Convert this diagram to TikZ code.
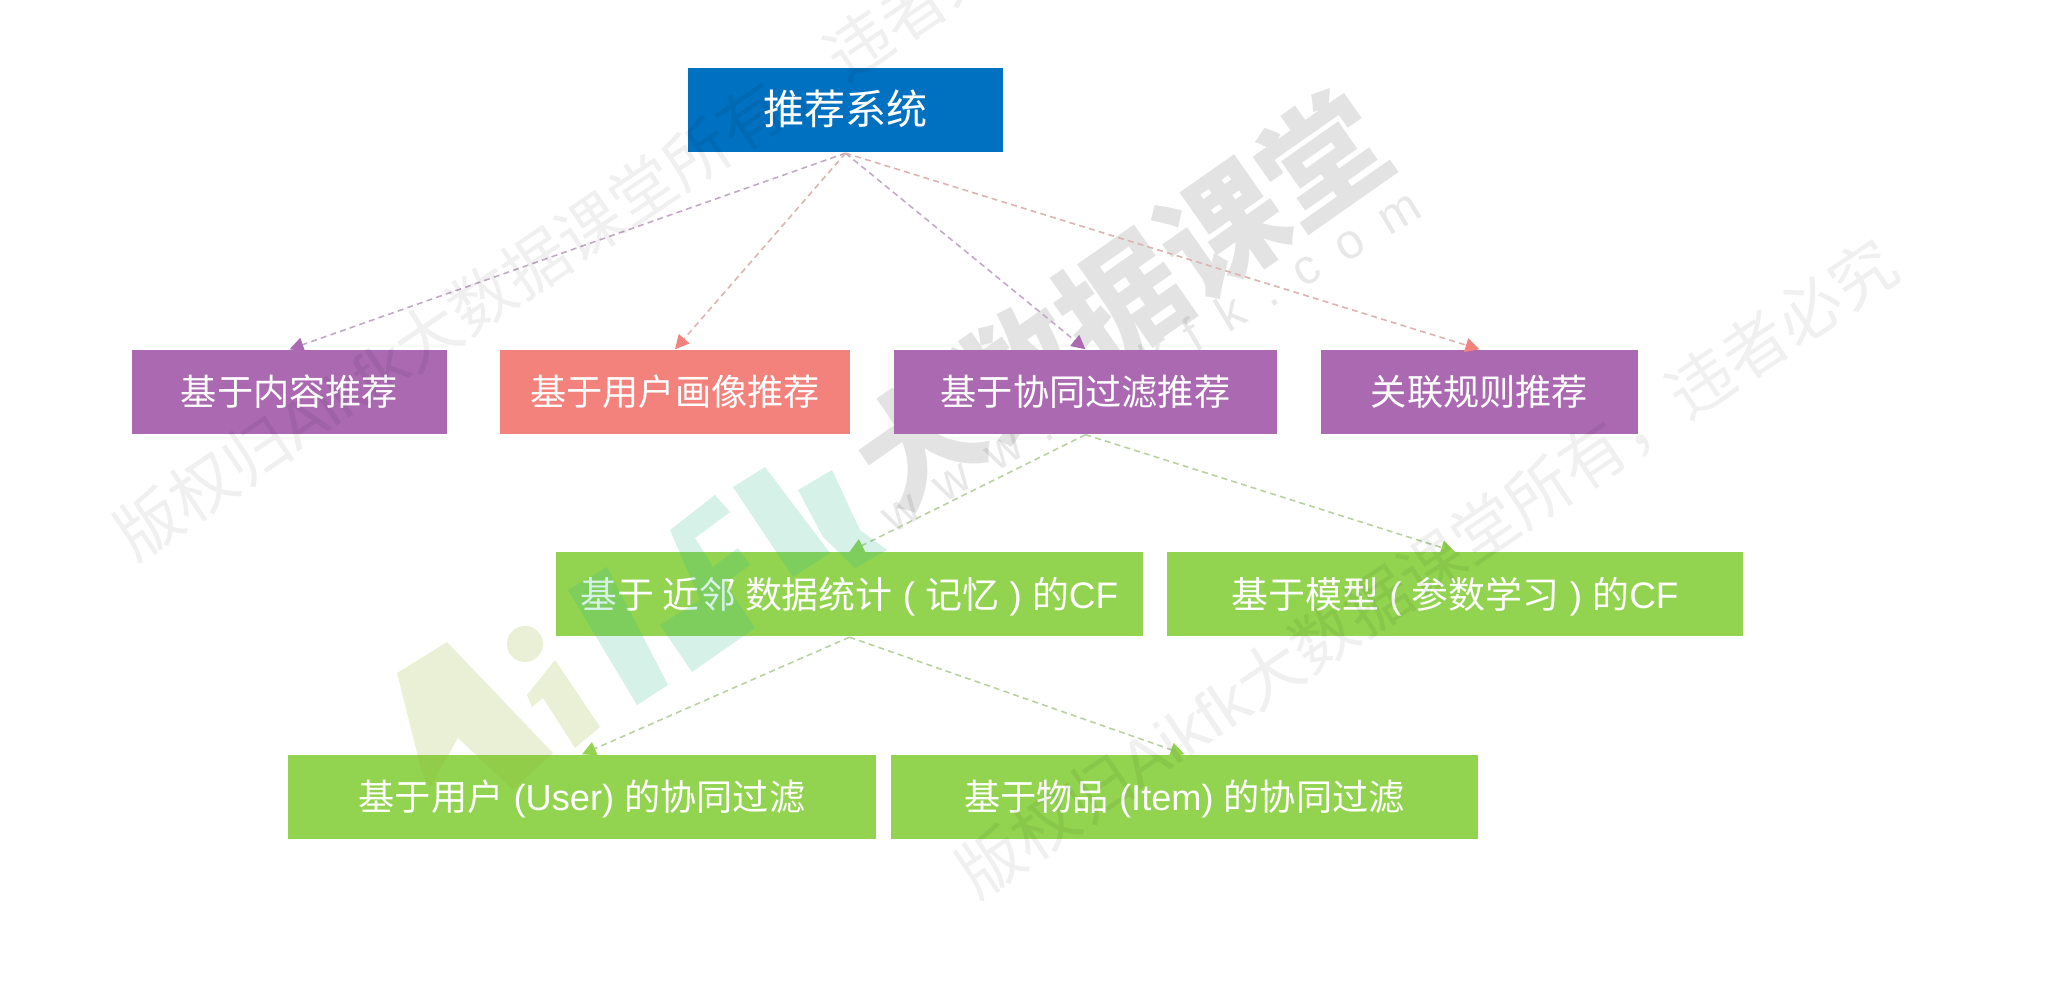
\documentclass[tikz,border=0pt]{standalone}
\usepackage{fontspec}
\setmainfont{Noto Sans CJK SC}
\newfontfamily\latn{Liberation Sans}
\newfontfamily\wide[LetterSpace=50]{Liberation Sans}
\usetikzlibrary{arrows.meta}
\definecolor{rootblue}{HTML}{0070C0}
\definecolor{plum}{HTML}{AB69B1}
\definecolor{salmon}{HTML}{F3827C}
\definecolor{leaf}{HTML}{92D450}
\begin{document}
\begin{tikzpicture}[
    box/.style={text=white, inner sep=0pt, minimum height=8.4mm, text height=3.2mm, text depth=0.4mm, font=\fontsize{10.3}{12}\selectfont},
    link/.style={draw=#1!60!gray!60, line width=0.45pt, dash pattern=on 1.7pt off 1.2pt, -{Triangle[length=1.4mm,width=1.4mm,color=#1]}},
    wmark/.style={text=black, text opacity=0.06, rotate=34, font=\fontsize{18.5}{20}\selectfont},
    bigmark/.style={text=black, text opacity=0.11, rotate=35, font=\bfseries\fontsize{35}{40}\selectfont},
    urlmark/.style={text=black, text opacity=0.09, rotate=31, font=\wide\fontsize{14}{18}\selectfont},
    logoA/.style={fill={rgb,255:red,150;green,180;blue,50}, fill opacity=0.2},
    logoK/.style={fill={rgb,255:red,45;green,185;blue,140}, fill opacity=0.2}
]
\useasboundingbox (0,0) rectangle (20.68,9.88);

\node[bigmark] (markbig) at (11.21,6.88) {大数据课堂};
\node[urlmark] (markurl) at (11.5,6.28) {www.aikfk.com};

\node[box, fill=rootblue, minimum width=31.5mm, font=\fontsize{11.7}{14}\selectfont] (root) at (8.455,8.775) {推荐系统};

\node[box, fill=plum, minimum width=31.5mm] (content) at (2.895,5.96) {基于内容推荐};
\node[box, fill=salmon, minimum width=35mm] (profile) at (6.75,5.96) {基于用户画像推荐};
\node[box, fill=plum, minimum width=38.3mm] (cf) at (10.855,5.96) {基于协同过滤推荐};
\node[box, fill=plum, minimum width=31.7mm] (assoc) at (14.795,5.96) {关联规则推荐};

\node[box, fill=leaf, minimum width=58.7mm, font=\fontsize{10.5}{12}\selectfont] (memory) at (8.495,3.935) {基于 近邻 数据统计{\latn\ ( }记忆{\latn\ ) }的{\latn CF}};
\node[box, fill=leaf, minimum width=57.6mm, font=\fontsize{10.5}{12}\selectfont] (model) at (14.55,3.935) {基于模型{\latn\ ( }参数学习{\latn\ ) }的{\latn CF}};

\node[box, fill=leaf, minimum width=58.8mm] (user) at (5.82,1.91) {基于用户{\latn\ (User) }的协同过滤};
\node[box, fill=leaf, minimum width=58.7mm] (item) at (11.845,1.91) {基于物品{\latn\ (Item) }的协同过滤};

\draw[link=plum] (root.south) -- (content.north);
\draw[link=salmon] (root.south) -- (profile.north);
\draw[link=plum] (root.south) -- (cf.north);
\draw[link=salmon] (root.south) -- (assoc.north);
\draw[link=leaf] (cf.south) -- (memory.north);
\draw[link=leaf] (cf.south) -- (model.north);
\draw[link=leaf] (memory.south) -- (user.north);
\draw[link=leaf] (memory.south) -- (item.north);

% watermark
\node[wmark] (markleft) at (5.85,7.58) {版权归{\latn Aikfk}大数据课堂所有，违者必究};
\node[wmark] (markright) at (14.27,4.2) {版权归{\latn Aikfk}大数据课堂所有，违者必究};

\begin{scope}[x=0.1mm, y=-0.1mm, yshift=9.88cm]
\fill[logoA] (397,673) -- (447,642) -- (553,753) -- (513,790) -- (458,738) -- (430,787) -- (423,777) -- cycle;
\fill[logoA] (525,644) circle (18);
\fill[logoA] (555,660) -- (600,727) -- (575,748) -- (543,698) -- (532,707) -- (527,695) -- cycle;
\fill[logoK] (568,590) -- (607,567) -- (668,685) -- (637,705) -- cycle;
\fill[logoK] (670,530) -- (715,495) -- (730,512) -- (695,538) -- (713,567) -- (738,548) -- (750,565) -- (725,583) -- (755,628) -- (692,672) -- (660,625) -- (700,600) -- cycle;
\fill[logoK] (733,487) -- (765,467) -- (830,553) -- (793,577) -- cycle;
\fill[logoK] (798,490) -- (832,470) -- (860,530) -- (887,550) -- (855,568) -- (823,537) -- cycle;
\end{scope}

\end{tikzpicture}
\end{document}
